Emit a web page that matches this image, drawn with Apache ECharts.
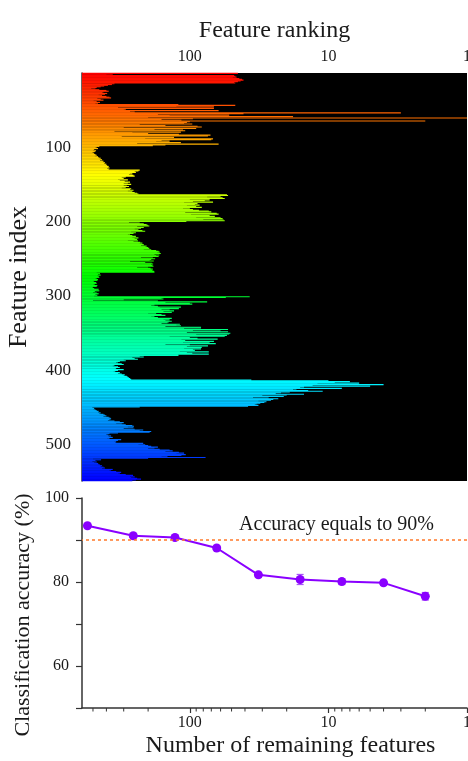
<!DOCTYPE html>
<html lang="en">
<head>
<meta charset="UTF-8">
<title>Feature ranking</title>
<script src="https://cdn.jsdelivr.net/npm/echarts@6/dist/echarts.min.js"></script>
<style>
  html, body { margin: 0; padding: 0; background: #fff; }
  #main { width: 468px; height: 761px; }
</style>
</head>
<body>
<div id="main"></div>
<script>
// rank of each feature (feature 1 at top)
var featureRank = [
  // 1-14
  45, 400, 360, 48, 47, 46, 49, 44, 42, 41, 43, 45, 48, 47,
  // 15-42
  350, 365, 390, 415, 440, 470, 515, 480, 450, 400, 385, 420, 430, 395, 410,
  455, 430, 400, 380, 370, 465, 440, 420, 495, 470, 445, 480, 460,
  // 43-67
  121, 47, 125, 67, 330, 67, 290, 300, 62, 270, 250, 3, 41, 170, 52, 140, 18,
  200, 1, 95, 160, 115, 2, 100, 105,
  // 68-98
  110, 96, 230, 150, 88, 82, 300, 90, 180, 112, 108, 350, 116, 260, 200, 120,
  71, 74, 310, 130, 210, 68, 70, 160, 140, 175, 116, 240, 62, 150, 185,
  // 99-130
  450, 470, 480, 460, 490, 500, 475, 485, 505, 495, 490, 480, 470, 485, 460,
  455, 440, 450, 430, 445, 420, 425, 410, 415, 400, 405, 395, 385, 390, 380, 395, 385,
  // 131-163
  230, 235, 250, 245, 270, 260, 275, 255, 250, 290, 310, 300, 330, 280, 320,
  295, 270, 280, 300, 265, 285, 300, 275, 290, 310, 265, 270, 255, 280, 260, 250, 240, 235,
  // 164-200
  54, 53, 60, 75, 58, 56, 100, 72, 78, 95, 68, 110, 88, 92, 85, 105, 90, 82, 112,
  100, 95, 86, 73, 70, 108, 64, 62, 98, 72, 66, 90, 60, 58, 80, 57, 56, 106,
  // 201-219
  275, 230, 215, 205, 200, 196, 240, 215, 225, 250, 235, 220, 210, 265, 245, 255, 270, 280, 260,
  // 220-268
  245, 260, 235, 250, 240, 280, 237, 255, 228, 220, 230, 215, 225, 205, 210, 200,
  196, 215, 190, 175, 168, 165, 172, 162, 180, 166, 175, 168, 225, 185, 178, 190,
  195, 182, 270, 210, 188, 184, 190, 186, 183, 200, 240, 192, 185, 190, 186, 181, 180,
  // 269-300
  470, 445, 460, 440, 465, 455, 450, 470, 480, 460, 465, 500, 490, 475, 470, 485,
  495, 465, 470, 500, 505, 490, 455, 475, 450, 485, 500, 470, 455, 480, 465, 490,
  // 301-329
  37, 55, 160, 155, 300, 500, 170, 75, 150, 100, 96, 180, 190, 170, 116, 165, 120,
  160, 140, 130, 155, 135, 200, 175, 160, 150, 180, 190, 170,
  // 330-342
  135, 155, 140, 150, 135, 142, 145, 160, 118, 125, 116, 150, 83,
  // 343-379
  83, 110, 53, 95, 60, 53, 105, 51, 52, 90, 54, 56, 140, 100, 88, 63, 115, 108, 67,
  112, 72, 65, 150, 100, 74, 105, 82, 110, 83, 95, 92, 118, 73, 105, 96, 73, 121,
  // 380-412
  121, 230, 215, 260, 250, 237, 300, 290, 320, 340, 330, 310, 300, 350, 360, 330,
  320, 340, 345, 300, 330, 355, 345, 320, 330, 310, 295, 300, 285, 280, 275, 270, 265,
  // 413-449
  36, 10, 7, 9, 6, 12, 4, 13, 5, 15, 16, 8, 17, 18, 14, 11, 19, 22, 24, 15, 20, 30,
  21, 35, 27, 23, 25, 26, 32, 28, 29, 31, 33, 34, 32, 38, 230,
  // 450-482
  505, 490, 495, 480, 470, 455, 460, 440, 450, 420, 410, 400, 420, 385, 375, 370,
  380, 390, 350, 320, 300, 340, 310, 290, 260, 253, 280, 255, 300, 250, 217, 230, 190,
  // 483-518
  195, 330, 380, 400, 390, 370, 385, 360, 380, 395, 313, 330, 350, 340, 345, 217,
  235, 210, 200, 190, 170, 180, 200, 165, 140, 133, 150, 120, 110, 125, 107, 115, 160, 145, 77, 200,
  // 519-548
  500, 437, 480, 505, 470, 490, 460, 455, 445, 430, 440, 420, 410, 430, 360, 380,
  370, 340, 313, 330, 320, 290, 257, 270, 250, 265, 240, 225, 245, 260
];

// classification accuracy vs number of remaining features
var remaining = [548, 256, 128, 64, 32, 16, 8, 4, 2];
var accuracy = [93.4, 91.0, 90.6, 88.1, 81.7, 80.6, 80.1, 79.8, 76.6];
var accErr = [0.4, 0.4, 0.4, 0.5, 0.6, 1.2, 0.7, 0.6, 0.9];

// minor ticks of the bottom log axis
var minorTicks = [2, 3, 4, 5, 6, 7, 8, 9, 20, 30, 40, 50, 60, 70, 80, 90, 200, 300, 400, 500];

var featureIndex = [];
for (var i = 1; i <= featureRank.length; i++) featureIndex.push(i);

var serif = 'Liberation Serif';
var axisCol = '#333';
var txtCol = '#1a1a1a';

var myChart = echarts.init(document.getElementById('main'));

function renderBar(params, api) {
  var idx = api.value(1);
  var end = api.coord([api.value(0), idx]);
  var cs = params.coordSys;
  var h = cs.height / featureRank.length;
  var hue = 240 * idx / (featureRank.length - 1);
  return {
    type: 'rect',
    shape: { x: cs.x, y: end[1] - h / 2 - 0.2, width: end[0] - cs.x, height: h + 0.4 },
    style: { fill: 'hsl(' + hue.toFixed(1) + ',100%,50%)' }
  };
}

function renderErr(params, api) {
  var x = api.value(0);
  var top = api.coord([x, api.value(1) + api.value(2)]);
  var bot = api.coord([x, api.value(1) - api.value(2)]);
  var st = { stroke: '#a855f7', lineWidth: 1.2 };
  return {
    type: 'group',
    children: [
      { type: 'line', shape: { x1: top[0], y1: top[1], x2: bot[0], y2: bot[1] }, style: st },
      { type: 'line', shape: { x1: top[0] - 3.5, y1: top[1], x2: top[0] + 3.5, y2: top[1] }, style: st },
      { type: 'line', shape: { x1: bot[0] - 3.5, y1: bot[1], x2: bot[0] + 3.5, y2: bot[1] }, style: st }
    ]
  };
}

function renderMinor(params, api) {
  var p = api.coord([api.value(0), 60]);
  var y0 = params.coordSys.y + params.coordSys.height;
  return {
    type: 'line',
    shape: { x1: p[0], y1: y0, x2: p[0], y2: y0 + 3.5 },
    style: { stroke: axisCol, lineWidth: 1 }
  };
}

var lbl = { fontFamily: serif, fontSize: 16, color: txtCol };

var option = {
  animation: false,
  backgroundColor: '#fff',
  grid: [
    { left: 82, right: 1, top: 73, height: 408, show: true, backgroundColor: '#000', borderWidth: 0,
      containLabel: false, outerBoundsMode: 'none' },
    { left: 82, right: 1, top: 498, height: 210, containLabel: false, outerBoundsMode: 'none' }
  ],
  xAxis: [
    {
      gridIndex: 0, type: 'log', min: 1, max: 600, inverse: true, position: 'top',
      name: 'Feature ranking', nameLocation: 'middle', nameGap: 30,
      nameTextStyle: { fontFamily: serif, fontSize: 24, color: txtCol },
      axisLine: { lineStyle: { color: axisCol, width: 1.5 } },
      axisTick: { length: 5, lineStyle: { color: axisCol, width: 1.2 } },
      axisLabel: Object.assign({ margin: 8, showMaxLabel: false }, lbl),
      splitLine: { show: false }
    },
    {
      gridIndex: 1, type: 'log', min: 1, max: 600, inverse: true, position: 'bottom',
      name: 'Number of remaining features', nameLocation: 'middle', nameGap: 26,
      nameTextStyle: { fontFamily: serif, fontSize: 24, color: txtCol, padding: [0, 0, 0, 32] },
      axisLine: { lineStyle: { color: axisCol, width: 1.5 } },
      axisTick: { length: 5, lineStyle: { color: axisCol, width: 1.2 } },
      axisLabel: Object.assign({ margin: 7, showMaxLabel: false }, lbl),
      splitLine: { show: false }
    }
  ],
  yAxis: [
    {
      gridIndex: 0, type: 'category', data: featureIndex, inverse: true,
      name: 'Feature index', nameLocation: 'middle', nameGap: 50,
      nameTextStyle: { fontFamily: serif, fontSize: 26, color: txtCol },
      axisLine: { lineStyle: { color: axisCol, width: 1.5 } },
      axisTick: {
        length: 6, alignWithLabel: true, lineStyle: { color: axisCol, width: 1.2 },
        interval: function (idx, val) { return val % 100 === 0; }
      },
      axisLabel: Object.assign({
        margin: 11, fontSize: 17,
        interval: function (idx, val) { return val % 100 === 0; }
      }, { fontFamily: serif, color: txtCol }),
      splitLine: { show: false }
    },
    {
      gridIndex: 1, type: 'value', min: 50, max: 100, interval: 10,
      name: 'Classification accuracy (%)', nameLocation: 'middle', nameGap: 47,
      nameTextStyle: { fontFamily: serif, fontSize: 22, color: txtCol, padding: [0, 24, 0, 0] },
      axisLine: { show: true, lineStyle: { color: axisCol, width: 1.5 } },
      axisTick: { show: true, length: 6, lineStyle: { color: axisCol, width: 1.2 } },
      axisLabel: Object.assign({
        margin: 13,
        formatter: function (v) { return v % 20 === 0 ? String(v) : ''; }
      }, lbl),
      splitLine: { show: false }
    }
  ],
  series: [
    {
      type: 'custom', xAxisIndex: 0, yAxisIndex: 0, silent: true,
      renderItem: renderBar,
      encode: { x: 0, y: 1 },
      data: featureRank.map(function (r, i) { return [r, i]; })
    },
    {
      type: 'custom', xAxisIndex: 1, yAxisIndex: 1, silent: true, clip: false,
      renderItem: renderMinor,
      encode: { x: 0 },
      data: minorTicks.map(function (v) { return [v]; })
    },
    {
      type: 'custom', xAxisIndex: 1, yAxisIndex: 1, silent: true, z: 3,
      renderItem: renderErr,
      encode: { x: 0, y: 1 },
      data: remaining.map(function (n, i) { return [n, accuracy[i], accErr[i]]; })
    },
    {
      type: 'line', xAxisIndex: 1, yAxisIndex: 1, silent: true, z: 4,
      data: remaining.map(function (n, i) { return [n, accuracy[i]]; }),
      symbol: 'circle', symbolSize: 9,
      lineStyle: { color: '#8a00ff', width: 2 },
      itemStyle: { color: '#8a00ff' },
      markLine: {
        silent: true, symbol: 'none',
        lineStyle: { color: '#ff7a2a', type: [3, 3], width: 1.5 },
        label: {
          show: true, position: 'insideStartTop', distance: [33, 5],
          formatter: 'Accuracy equals to 90%',
          fontFamily: serif, fontSize: 20, color: txtCol
        },
        data: [{ yAxis: 90 }]
      }
    }
  ]
};

myChart.setOption(option);
</script>
</body>
</html>
